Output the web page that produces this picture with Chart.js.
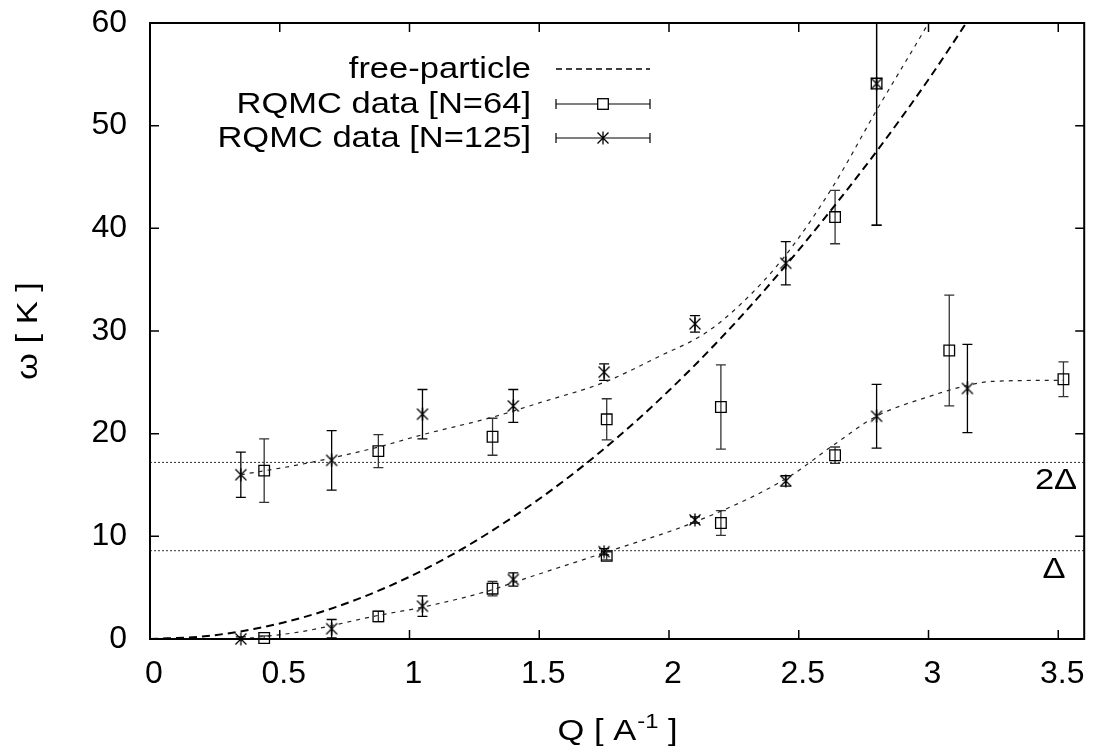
<!DOCTYPE html>
<html lang="en">
  <head>
    <meta charset="utf-8" />
    <title>RQMC excitation spectrum</title>
    <style>
      * {
        margin: 0;
        padding: 0;
      }
      body {
        background: #fff;
      }
      .chartBox {
        width: 1093px;
        height: 749px;
      }
    </style>
  </head>
  <body>
    <div class="chartBox">
      <canvas id="myChart" width="1093" height="749"></canvas>
    </div>

    <script src="https://cdn.jsdelivr.net/npm/chart.js"></script>

    <script>
      // axis ticks
      const xTicks = [0, 0.5, 1, 1.5, 2, 2.5, 3, 3.5];
      const xTickLabels = ["0", "0.5", "1", "1.5", "2", "2.5", "3", "3.5"];
      const yTicks = [0, 10, 20, 30, 40, 50, 60];
      const yTickLabels = ["0", "10", "20", "30", "40", "50", "60"];

      // gap levels (horizontal dotted lines)
      const gapValues = [8.6, 17.2];
      const gapLabels = ["Δ", "2Δ"];

      const legendLabels = ["free-particle", "RQMC data [N=64]", "RQMC data [N=125]"];

      // free-particle dispersion
      const freeQ = [0, 0.2, 0.4, 0.6, 0.8, 1.0, 1.2, 1.4, 1.6, 1.8, 2.0, 2.2, 2.4, 2.6, 2.8, 3.0, 3.2];
      const freeW = [0, 0.24, 0.97, 2.18, 3.88, 6.06, 8.73, 11.9, 15.5, 19.6, 24.2, 29.3, 34.9, 41.0, 47.5, 54.5, 62.1];

      // RQMC N=64 (squares)
      const q64Low = [0.44, 0.88, 1.32, 1.76, 2.2, 2.64, 3.08, 3.52];
      const w64Low = [0.1, 2.2, 4.9, 8.1, 11.3, 17.9, 28.1, 25.3];
      const e64Low = [0.2, 0.5, 0.7, 0.4, 1.2, 0.8, 5.4, 1.7];
      const q64High = [0.44, 0.88, 1.32, 1.76, 2.2, 2.64, 2.8];
      const w64High = [16.4, 18.3, 19.7, 21.4, 22.6, 41.1, 54.1];
      const e64High = [3.1, 1.6, 1.8, 2.0, 4.1, 2.6, 13.8];

      // RQMC N=125 (asterisks)
      const q125Low = [0.35, 0.7, 1.05, 1.4, 1.75, 2.1, 2.45, 2.8, 3.15];
      const w125Low = [0.0, 1.0, 3.2, 5.8, 8.5, 11.6, 15.4, 21.7, 24.4];
      const e125Low = [0.2, 0.9, 1.0, 0.65, 0.3, 0.3, 0.5, 3.1, 4.3];
      const q125High = [0.35, 0.7, 1.05, 1.4, 1.75, 2.1, 2.45, 2.8];
      const w125High = [16.0, 17.4, 21.9, 22.7, 26.0, 30.7, 36.6, 54.1];
      const e125High = [2.2, 2.9, 2.4, 1.6, 0.8, 0.8, 2.1, 13.8];

      // guide-to-the-eye curves through the two branches
      const fitHighQ = [0.35, 0.6, 0.88, 1.05, 1.32, 1.5, 1.75, 1.96, 2.14, 2.28, 2.45, 2.63, 2.8, 3.0, 3.1];
      const fitHighW = [16.0, 17.1, 18.7, 19.9, 21.6, 23.0, 25.0, 27.5, 29.8, 32.7, 37.4, 44.0, 51.5, 60.0, 64.5];
      const fitLowQ = [0.35, 0.58, 0.88, 1.05, 1.32, 1.4, 1.75, 2.1, 2.45, 2.64, 2.8, 3.0, 3.15, 3.25, 3.52];
      const fitLowW = [0.0, 0.7, 2.3, 3.1, 4.8, 5.5, 8.4, 11.4, 15.6, 19.0, 21.7, 23.6, 24.7, 25.1, 25.2];

      const FONT = "'Liberation Sans', Arial, sans-serif";
      // the original lettering is a horizontally widened Helvetica
      const STRETCH = 1.19;
      const pts = (xs, ys) => xs.map((v, i) => ({ x: v, y: ys[i] }));

      function wideText(ctx, txt, x, y, size, align) {
        ctx.save();
        ctx.font = size + "px " + FONT;
        ctx.translate(x, y);
        ctx.scale(STRETCH, 1);
        ctx.textAlign = align;
        ctx.fillText(txt, 0, 0);
        ctx.restore();
      }
      function wideWidth(ctx, txt, size) {
        ctx.font = size + "px " + FONT;
        return ctx.measureText(txt).width * STRETCH;
      }

      // asterisk marker (x plus vertical stroke)
      const starMark = document.createElement("canvas");
      starMark.width = 14;
      starMark.height = 14;
      const sctx = starMark.getContext("2d");
      sctx.strokeStyle = "#000";
      sctx.lineWidth = 1.3;
      sctx.beginPath();
      sctx.moveTo(1.5, 1.5);
      sctx.lineTo(12.5, 12.5);
      sctx.moveTo(12.5, 1.5);
      sctx.lineTo(1.5, 12.5);
      sctx.moveTo(7, 0.5);
      sctx.lineTo(7, 13.5);
      sctx.stroke();

      const data = {
        datasets: [
          {
            label: legendLabels[0],
            data: pts(freeQ, freeW),
            showLine: true,
            borderColor: "#000",
            borderWidth: 2,
            borderDash: [8, 5],
            pointRadius: 0,
            cubicInterpolationMode: "monotone",
          },
          {
            label: "fit upper",
            data: pts(fitHighQ, fitHighW),
            showLine: true,
            borderColor: "#222",
            borderWidth: 1.2,
            borderDash: [4, 5],
            pointRadius: 0,
            cubicInterpolationMode: "monotone",
          },
          {
            label: "fit lower",
            data: pts(fitLowQ, fitLowW),
            showLine: true,
            borderColor: "#222",
            borderWidth: 1.2,
            borderDash: [4, 5],
            pointRadius: 0,
            cubicInterpolationMode: "monotone",
          },
          ...gapValues.map((g, i) => ({
            label: gapLabels[i],
            data: [
              { x: 0, y: g },
              { x: 3.6, y: g },
            ],
            showLine: true,
            borderColor: "#333",
            borderWidth: 1,
            borderDash: [2, 2],
            pointRadius: 0,
          })),
          {
            label: legendLabels[1],
            data: pts(q64Low.concat(q64High), w64Low.concat(w64High)),
            errors: e64Low.concat(e64High),
            errorColor: "#333",
            showLine: false,
            pointStyle: "rect",
            pointRadius: 7.5,
            pointBorderColor: "#000",
            pointBackgroundColor: "rgba(0,0,0,0)",
            pointBorderWidth: 1.3,
            clip: 12,
          },
          {
            label: legendLabels[2],
            data: pts(q125Low.concat(q125High), w125Low.concat(w125High)),
            errors: e125Low.concat(e125High),
            errorColor: "#000",
            showLine: false,
            pointStyle: starMark,
            pointRadius: 7,
            clip: 12,
          },
        ],
      };

      // error bars, frame, inward ticks, titles, legend and gap labels
      const gnuplotLook = {
        id: "gnuplotLook",
        beforeDatasetsDraw(chart) {
          const {
            ctx,
            chartArea: { top, bottom, left, right },
            scales: { x, y },
          } = chart;
          chart.data.datasets.forEach((ds) => {
            if (!ds.errors) return;
            ctx.save();
            ctx.beginPath();
            ctx.rect(left, top, right - left, bottom - top);
            ctx.clip();
            ctx.strokeStyle = ds.errorColor;
            ctx.lineWidth = 1.3;
            ds.data.forEach((p, j) => {
              const px = x.getPixelForValue(p.x);
              const yHi = y.getPixelForValue(p.y + ds.errors[j]);
              const yLo = y.getPixelForValue(p.y - ds.errors[j]);
              ctx.beginPath();
              ctx.moveTo(px, yHi);
              ctx.lineTo(px, yLo);
              ctx.moveTo(px - 5, yHi);
              ctx.lineTo(px + 5, yHi);
              ctx.moveTo(px - 5, yLo);
              ctx.lineTo(px + 5, yLo);
              ctx.stroke();
            });
            ctx.restore();
          });
        },
        afterDraw(chart) {
          const {
            ctx,
            chartArea: { top, bottom, left, right },
            scales: { x, y },
          } = chart;
          ctx.save();
          ctx.strokeStyle = "#000";

          // frame
          ctx.lineWidth = 2;
          ctx.strokeRect(left, top, right - left, bottom - top);

          // mirrored inward ticks
          ctx.lineWidth = 1.5;
          ctx.beginPath();
          xTicks.forEach((v) => {
            const px = x.getPixelForValue(v);
            ctx.moveTo(px, bottom);
            ctx.lineTo(px, bottom - 9);
            ctx.moveTo(px, top);
            ctx.lineTo(px, top + 9);
          });
          yTicks.forEach((v) => {
            const py = y.getPixelForValue(v);
            ctx.moveTo(left, py);
            ctx.lineTo(left + 9, py);
            ctx.moveTo(right, py);
            ctx.lineTo(right - 9, py);
          });
          ctx.stroke();

          ctx.fillStyle = "#000";
          ctx.textBaseline = "alphabetic";

          // x title with superscript
          const cx = (left + right) / 2;
          const base = 740;
          const partA = "Q [ A";
          const partB = "-1";
          const partC = " ]";
          const wA = wideWidth(ctx, partA, 29);
          const wB = wideWidth(ctx, partB, 20);
          const wC = wideWidth(ctx, partC, 29);
          const sx = cx - (wA + wB + wC) / 2;
          wideText(ctx, partA, sx, base, 29, "left");
          wideText(ctx, partB, sx + wA + 1, base - 12, 20, "left");
          wideText(ctx, partC, sx + wA + wB + 1, base, 29, "left");

          // y title
          ctx.save();
          ctx.translate(29, (top + bottom) / 2);
          ctx.rotate(-Math.PI / 2);
          ctx.textBaseline = "middle";
          wideText(ctx, "ω [ K ]", 0, 0, 29, "center");
          ctx.restore();

          // gap labels
          ctx.textBaseline = "middle";
          wideText(ctx, gapLabels[1], 1056, y.getPixelForValue(gapValues[1]) + 19, 29, "center");
          wideText(ctx, gapLabels[0], 1054, y.getPixelForValue(gapValues[0]) + 19, 29, "center");

          // legend
          const rowY = [69, 104, 138];
          const textRight = 531;
          const x0 = 556;
          const x1 = 650;
          const xm = (x0 + x1) / 2;
          legendLabels.forEach((lab, i) => {
            wideText(ctx, lab, textRight, rowY[i] + 1, 29, "right");
          });
          // free-particle sample
          ctx.lineWidth = 1.6;
          ctx.setLineDash([6, 4]);
          ctx.beginPath();
          ctx.moveTo(x0, rowY[0]);
          ctx.lineTo(x1, rowY[0]);
          ctx.stroke();
          ctx.setLineDash([]);
          // error bar samples
          ctx.lineWidth = 1.2;
          [rowY[1], rowY[2]].forEach((ry) => {
            ctx.beginPath();
            ctx.moveTo(x0, ry);
            ctx.lineTo(x1, ry);
            ctx.moveTo(x0, ry - 5);
            ctx.lineTo(x0, ry + 5);
            ctx.moveTo(x1, ry - 5);
            ctx.lineTo(x1, ry + 5);
            ctx.stroke();
          });
          ctx.fillStyle = "#fff";
          ctx.fillRect(xm - 5.3, rowY[1] - 5.3, 10.6, 10.6);
          ctx.lineWidth = 1.3;
          ctx.strokeRect(xm - 5.3, rowY[1] - 5.3, 10.6, 10.6);
          ctx.drawImage(starMark, xm - 7, rowY[2] - 7);
          ctx.restore();
        },
      };

      const tickFont = { family: FONT, size: 32 };

      const config = {
        type: "scatter",
        data: data,
        options: {
          responsive: false,
          animation: false,
          layout: { padding: { top: 23, right: 6, left: 0, bottom: 0 } },
          plugins: {
            legend: { display: false },
            tooltip: { enabled: false },
          },
          scales: {
            x: {
              type: "linear",
              min: 0,
              max: 3.6,
              afterBuildTicks: (s) => {
                s.ticks = xTicks.map((v) => ({ value: v }));
              },
              afterFit: (s) => {
                s.height = 110;
                s.paddingLeft = 0;
                s.paddingRight = 0;
              },
              ticks: {
                callback: (v) => xTickLabels[xTicks.indexOf(v)],
                font: tickFont,
                color: "#000",
                padding: 16,
                labelOffset: 4,
                maxRotation: 0,
                autoSkip: false,
              },
              grid: { display: false, drawTicks: false },
              border: { display: false },
            },
            y: {
              type: "linear",
              min: 0,
              max: 60,
              afterBuildTicks: (s) => {
                s.ticks = yTicks.map((v) => ({ value: v }));
              },
              afterFit: (s) => {
                s.width = 150;
                s.paddingTop = 0;
                s.paddingBottom = 0;
              },
              ticks: {
                callback: (v) => yTickLabels[yTicks.indexOf(v)],
                font: tickFont,
                color: "#000",
                padding: 23,
                autoSkip: false,
              },
              grid: { display: false, drawTicks: false },
              border: { display: false },
            },
          },
        },
        plugins: [gnuplotLook],
      };

      const myChart = new Chart(document.getElementById("myChart"), config);
    </script>
  </body>
</html>
